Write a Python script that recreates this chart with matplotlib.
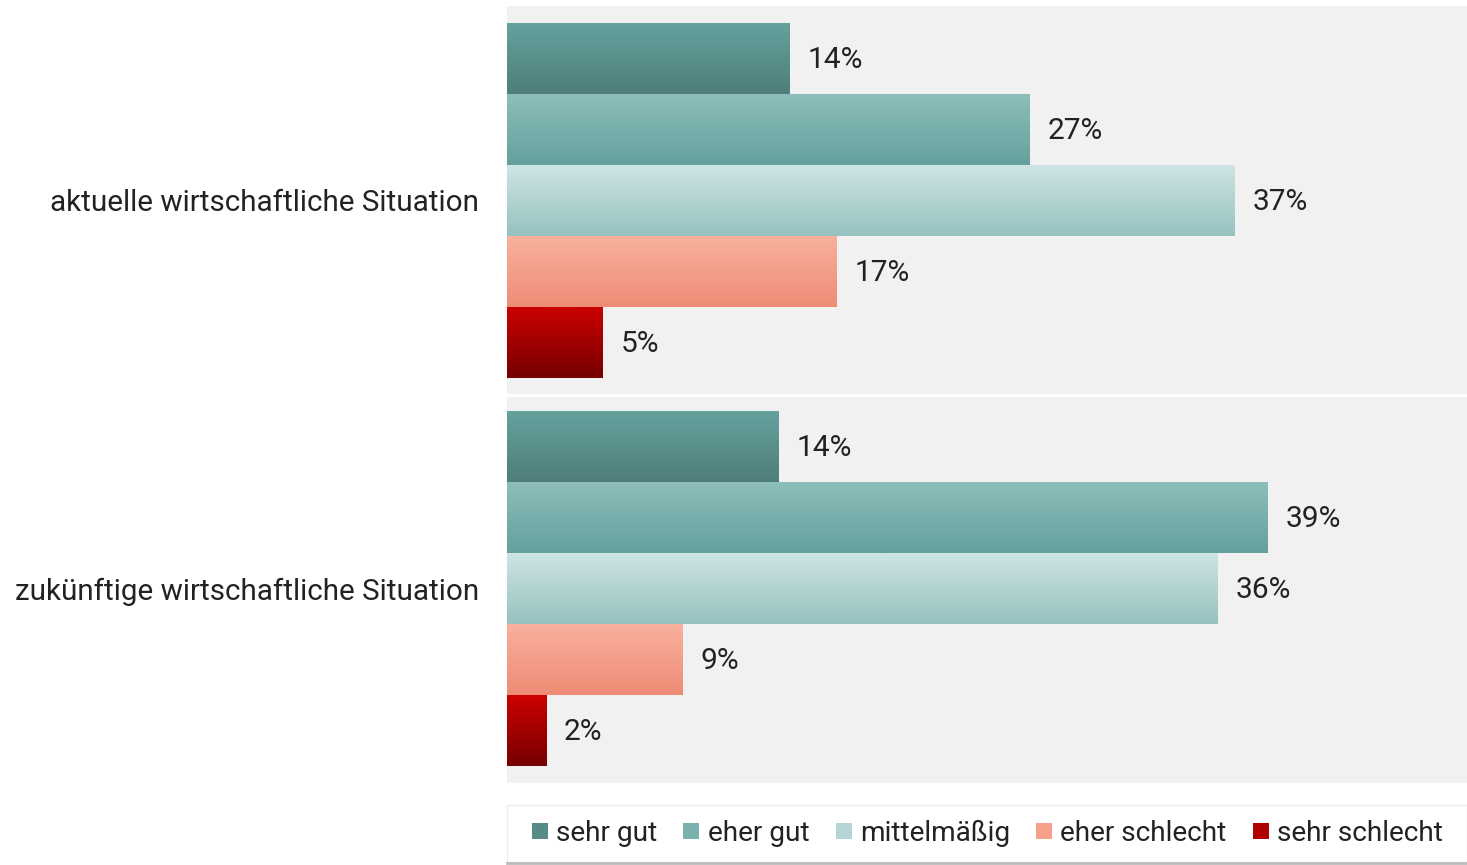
import numpy as np
import matplotlib
matplotlib.use("Agg")
import matplotlib.pyplot as plt
from matplotlib.colors import LinearSegmentedColormap
from matplotlib.lines import Line2D
from matplotlib.patches import Rectangle

plt.rcParams["font.family"] = ["Roboto", "DejaVu Sans"]

CATEGORIES = ["aktuelle wirtschaftliche Situation", "zukünftige wirtschaftliche Situation"]
SERIES = ["sehr gut", "eher gut", "mittelmäßig", "eher schlecht", "sehr schlecht"]
# bar lengths; labels are the printed rounded values
VALUES = [
    [14.5, 26.8, 37.3, 16.9, 4.9],   # aktuelle
    [13.9, 39.0, 36.4, 9.0, 2.0],    # zukünftige
]
LABELS = [
    ["14%", "27%", "37%", "17%", "5%"],
    ["14%", "39%", "36%", "9%", "2%"],
]
# (top, bottom) gradient colours per series
GRADIENTS = [
    ("#65a19d", "#4e7e7b"),
    ("#8dbebb", "#64a09c"),
    ("#cee4e4", "#96c2bf"),
    ("#f9b19d", "#ee8c76"),
    ("#cc0000", "#760000"),
]
LEGEND_COLORS = ["#578b88", "#7ab0ad", "#b6d6d5", "#f4a08b", "#b00000"]

W, H = 1467, 865
fig = plt.figure(figsize=(W / 100, H / 100), dpi=100)
ax = fig.add_axes([507 / W, 1 - 783 / H, 1 - 507 / W, (783 - 6) / H])
ax.set_facecolor("#f1f1f1")

n = len(SERIES)
bh = 71 / 388.5
xmax = 49.2
for c, cat in enumerate(CATEGORIES):
    for s in range(n):
        y = c + (s - (n - 1) / 2) * bh
        bar = ax.barh(y, VALUES[c][s], height=bh, color="none", linewidth=0)[0]
        x0, y0 = bar.get_x(), bar.get_y()
        w, h = bar.get_width(), bar.get_height()
        cmap = LinearSegmentedColormap.from_list("g", [GRADIENTS[s][1], GRADIENTS[s][0]])
        grad = np.linspace(0, 1, 64).reshape(-1, 1)
        ax.imshow(grad[::-1], extent=(x0, x0 + w, y0 + h, y0), cmap=cmap,
                  aspect="auto", origin="upper", zorder=2)
        ax.annotate(LABELS[c][s], xy=(VALUES[c][s], y), xytext=(13, -1),
                    textcoords="offset points", va="center", ha="left",
                    fontsize=21.5, color="#222222")

ax.axhline(0.5, color="white", linewidth=2, zorder=3)
ax.set_xlim(0, xmax)
ax.set_ylim(1.5, -0.5)
ax.set_yticks(range(len(CATEGORIES)), CATEGORIES, fontsize=21.3, color="#222222")
ax.tick_params(axis="y", length=0, pad=20)
ax.set_xticks([])
for sp in ax.spines.values():
    sp.set_visible(False)

# legend box with a soft shadow line
fig.add_artist(Rectangle((507 / W, 1 - 862 / H), 1 - 507 / W, 57 / H, transform=fig.transFigure,
                         facecolor="white", edgecolor="#eeeeee", linewidth=1))
fig.add_artist(Line2D([507 / W, 1.0], [1 - 863 / H] * 2, color="#bbbbbb",
                      linewidth=2, transform=fig.transFigure))

handles = [Line2D([], [], marker="s", linestyle="none", markersize=11,
                  markerfacecolor=col, markeredgewidth=0) for col in LEGEND_COLORS]
leg = fig.legend(handles, SERIES, loc="center left", ncol=5,
                 bbox_to_anchor=(532 / W, 1 - 833 / H), frameon=False, fontsize=20.2,
                 handlelength=0.55, handletextpad=0.3, columnspacing=0.95,
                 borderpad=0, borderaxespad=0)
for t in leg.get_texts():
    t.set_color("#222222")

fig.savefig("out.png", dpi=100)
